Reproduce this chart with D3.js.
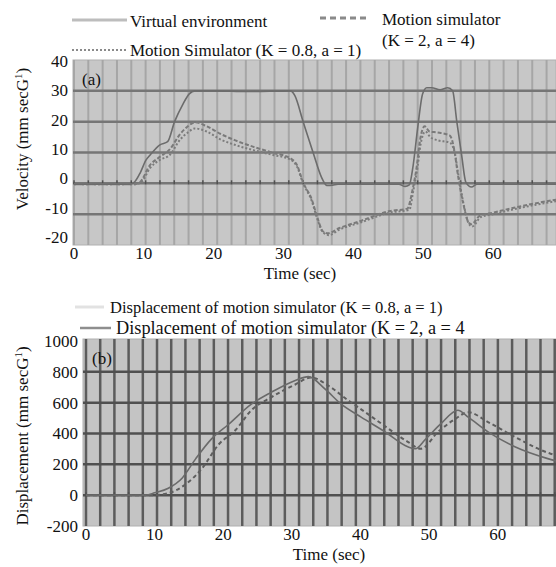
<!DOCTYPE html>
<html>
<head>
<meta charset="utf-8">
<script src="https://cdn.jsdelivr.net/npm/d3@7"></script>
<style>
  body { margin: 0; background: #fff; }
  #graph { width: 556px; height: 567px; }
  text { font-family: "Liberation Serif", "Times New Roman", serif; fill: #111; }
</style>
</head>
<body>
<div id="graph"></div>
<script>
// ---- panel (a): velocity ----
const veTime = [0, 8, 8.7, 9.5, 10.3, 10.9, 12.3, 13.4, 14.4, 15.6, 16.5, 17.3, 20, 25, 31, 31.6, 32.8, 34.2, 35.5, 36.2, 37, 37.8, 46.5, 47.4, 48, 48.5, 49.2, 49.9, 50.5, 51.2, 52.4, 53.5, 54.2, 54.8, 55.5, 56.1, 56.9, 57.7, 69];
const veVelocity = [-0.3, -0.3, 0.5, 3.5, 7.5, 9.2, 12.5, 13.5, 20, 25.7, 29, 30, 30, 29.8, 30, 28.5, 20, 10.2, 1.6, -0.7, -0.6, -0.3, -0.3, -1, -0.5, 5, 18, 29, 31, 31, 30.3, 31, 30, 20, 9, 0.3, -1.2, -0.3, -0.3];

const ms2Time = [0, 8.5, 9.4, 10.9, 12.3, 13.7, 15.2, 16.3, 17.3, 19, 21, 23, 25.6, 28.5, 30.9, 31.9, 32.8, 34, 34.9, 35.6, 36.3, 38, 40.9, 45.2, 47.7, 48.5, 49.1, 49.5, 50.2, 50.9, 52, 53.8, 54.5, 54.9, 55.7, 56.4, 56.9, 58.1, 60, 62.8, 66, 69];
const ms2Velocity = [-0.3, -0.3, 0.3, 6, 8.6, 11, 16, 18.5, 19.8, 18.5, 16, 14, 11.9, 9.9, 8.2, 6, 0.3, -5, -11.5, -15.5, -16.2, -14.5, -12.3, -9, -8.2, -1.7, 6, 13.5, 18.5, 16.8, 16.5, 15.5, 10, 3.6, -6.3, -12.3, -13.3, -10.5, -9.5, -8, -6.5, -5.3];

const ms08Time = [0, 8.7, 9.6, 10.9, 12.3, 13.7, 15.2, 16.3, 17.3, 19, 21, 23, 25.6, 28.5, 30.9, 31.9, 32.8, 34, 34.9, 35.6, 36.5, 38, 40.9, 45.2, 48, 48.6, 49.2, 49.6, 50.3, 51, 52, 53.8, 54.5, 55, 55.8, 56.5, 57, 58.2, 60, 62.8, 66, 69];
const ms08Velocity = [-0.3, -0.3, 0.3, 5, 7.6, 9.2, 14.2, 16.5, 17.8, 16.8, 14.2, 12.5, 10.8, 9.2, 7.8, 5.5, 0, -5.5, -12, -15.8, -16.8, -15, -12.8, -9.5, -8.6, -2, 5.5, 12.5, 16.8, 15, 14, 13.2, 10, 3, -7, -13, -14, -11, -10, -8.5, -7, -5.8];

const velTicks = [-20, -10, 0, 10, 20, 30, 40];

// ---- panel (b): displacement ----
const disp2Time = [0, 8.7, 10, 12, 14, 16, 18.3, 20.8, 24.1, 27, 30.5, 32.4, 34.9, 37.2, 40.1, 43.6, 46.9, 48, 49.4, 51.7, 54.2, 55.7, 58.6, 62.5, 67.3, 68.5];
const disp2Value = [0, 0, 15, 45, 110, 237, 365, 460, 590, 667, 744, 769, 686, 590, 506, 410, 314, 301, 359, 462, 551, 506, 410, 314, 237, 222];

const disp08Time = [0, 9.5, 12, 14.5, 16.9, 19.3, 21.8, 24.1, 27, 30.5, 32.8, 35.3, 38.2, 41.1, 43.8, 46.9, 48.8, 51.3, 53.8, 55.7, 58.6, 62.5, 67.7, 68.5];
const disp08Value = [0, 0, 13, 70, 173, 327, 423, 551, 635, 718, 763, 711, 615, 526, 440, 346, 301, 410, 494, 538, 474, 378, 269, 258];

const dispTicks = [-200, 0, 200, 400, 600, 800, 1000];
const timeTicks = [0, 10, 20, 30, 40, 50, 60];

const W = 556, H = 567;

function container() {
    return document.querySelector("#graph");
}

function zip(xs, ys) {
    return xs.map((x, i) => ({ t: x, v: ys[i] }));
}

function makePanel(svg, cfg) {
    const g = svg.append("g");
    const x = d3.scaleLinear().domain(cfg.xDomain).range(cfg.xRange);
    const y = d3.scaleLinear().domain(cfg.yDomain).range(cfg.yRange);
    // tick labels in the original sit a little off the grid lines
    const yLabel = d3.scaleLinear().domain(cfg.yDomain).range(cfg.labelRange || cfg.yRange);

    g.append("rect")
        .attr("x", cfg.left).attr("y", cfg.top)
        .attr("width", W - cfg.left).attr("height", cfg.bottom - cfg.top)
        .attr("fill", cfg.bg)
        .attr("stroke", "#b0b0b0").attr("stroke-width", 1);

    // vertical grid
    g.append("g").selectAll("line")
        .data(d3.range(0, cfg.xDomain[1] + 0.5, cfg.gridStep))
        .join("line")
        .attr("x1", d => x(d)).attr("x2", d => x(d))
        .attr("y1", cfg.top).attr("y2", cfg.bottom)
        .attr("stroke", cfg.vGrid).attr("stroke-width", cfg.vGridWidth);

    // horizontal grid
    g.append("g").selectAll("line")
        .data(cfg.yTicks.filter(d => d > cfg.yDomain[0] && d < cfg.yDomain[1]))
        .join("line")
        .attr("x1", cfg.left).attr("x2", W)
        .attr("y1", d => y(d)).attr("y2", d => y(d))
        .attr("stroke", cfg.hGrid).attr("stroke-width", 2.5);

    // small ticks on the zero line
    g.append("g").selectAll("line")
        .data(d3.range(0, cfg.xDomain[1] + 0.5, cfg.gridStep))
        .join("line")
        .attr("x1", d => x(d)).attr("x2", d => x(d))
        .attr("y1", y(0) - 3).attr("y2", y(0) + 1)
        .attr("stroke", "#505050").attr("stroke-width", 1.5);

    const line = d3.line()
        .x(d => x(d.t)).y(d => y(d.v))
        .curve(d3.curveMonotoneX);

    cfg.series.forEach(s => {
        g.append("path")
            .datum(zip(s.t, s.v))
            .attr("d", line)
            .attr("fill", "none")
            .attr("stroke", s.color)
            .attr("stroke-width", s.width)
            .attr("stroke-dasharray", s.dash || null);
    });

    // y tick labels
    g.append("g").selectAll("text")
        .data(cfg.yTicks)
        .join("text")
        .attr("x", cfg.left - 5)
        .attr("y", d => yLabel(d))
        .attr("dy", "0.35em")
        .attr("text-anchor", "end")
        .style("font-size", "17px")
        .text(d => d);

    // x tick labels
    g.append("g").selectAll("text")
        .data(timeTicks)
        .join("text")
        .attr("x", d => x(d))
        .attr("y", cfg.bottom + 14)
        .attr("text-anchor", "middle")
        .style("font-size", "17px")
        .text(d => d);

    g.append("text")
        .attr("x", cfg.xTitleX).attr("y", cfg.bottom + 34)
        .attr("text-anchor", "middle")
        .style("font-size", "17px")
        .text("Time (sec)");

    const yt = g.append("text")
        .attr("transform", `translate(${cfg.yTitleX},${cfg.yTitleY}) rotate(-90)`)
        .attr("text-anchor", "middle")
        .style("font-size", "17px");
    yt.append("tspan").text(cfg.yTitle + " (mm secG");
    yt.append("tspan").attr("baseline-shift", "super").style("font-size", "11px").text("1");
    yt.append("tspan").text(")");

    g.append("text")
        .attr("x", cfg.left + 9).attr("y", cfg.top + 25)
        .style("font-size", "17px")
        .text(cfg.tag);

    return g;
}

function legendItem(svg, x1, x2, ly, tx, ty, label, color, width, dash, size) {
    svg.append("line")
        .attr("x1", x1).attr("x2", x2).attr("y1", ly).attr("y2", ly)
        .attr("stroke", color).attr("stroke-width", width)
        .attr("stroke-dasharray", dash || null);
    svg.append("text")
        .attr("x", tx).attr("y", ty)
        .style("font-size", (size || 17) + "px")
        .text(label);
}

function main() {
    const svg = d3.select(container()).append("svg")
        .attr("width", W).attr("height", H);

    makePanel(svg, {
        left: 73, top: 60, bottom: 245,
        xDomain: [0, 69], xRange: [74, 556],
        yDomain: [-20, 40], yRange: [245, 60],
        labelRange: [237, 61],
        yTicks: velTicks,
        gridStep: 2.05,
        bg: "#c7c7c7", vGrid: "#a6a6a6", vGridWidth: 2, hGrid: "#767676",
        xTitleX: 300, yTitleX: 28, yTitleY: 139,
        yTitle: "Velocity", tag: "(a)",
        series: [
            { t: ms08Time, v: ms08Velocity, color: "#7c7c7c", width: 2, dash: "2,2" },
            { t: ms2Time, v: ms2Velocity, color: "#7a7a7a", width: 2, dash: "4,2" },
            { t: veTime, v: veVelocity, color: "#6c6c6c", width: 1.6 }
        ]
    });

    makePanel(svg, {
        left: 83, top: 339, bottom: 526,
        xDomain: [0, 68.5], xRange: [86, 556],
        yDomain: [-200, 1000], yRange: [526, 341],
        yTicks: dispTicks,
        gridStep: 2.07,
        bg: "#c4c4c4", vGrid: "#5c5c5c", vGridWidth: 2.5, hGrid: "#505050",
        xTitleX: 329, yTitleX: 28, yTitleY: 436,
        yTitle: "Displacement", tag: "(b)",
        series: [
            { t: disp08Time, v: disp08Value, color: "#5e5e5e", width: 2, dash: "4,3" },
            { t: disp2Time, v: disp2Value, color: "#6a6a6a", width: 1.6 }
        ]
    });

    legendItem(svg, 72, 127, 20, 130, 27, "Virtual environment", "#bdbdbd", 3);
    legendItem(svg, 320, 370, 18, 382, 25, "Motion simulator", "#8a8a8a", 3, "6,4");
    svg.append("text").attr("x", 382).attr("y", 46).style("font-size", "17px").text("(K = 2, a = 4)");
    legendItem(svg, 72, 127, 50, 130, 56, "Motion Simulator (K = 0.8, a = 1)", "#8a8a8a", 2, "2,2");

    legendItem(svg, 75, 104, 307, 110, 313, "Displacement of motion simulator (K = 0.8, a = 1)", "#e2e2e2", 3, null, 16.5);
    legendItem(svg, 80, 111, 328, 116, 334, "Displacement of motion simulator (K = 2, a = 4", "#8e8e8e", 2.5, null, 18.3);

    return svg.node();
}

main();
</script>
</body>
</html>
